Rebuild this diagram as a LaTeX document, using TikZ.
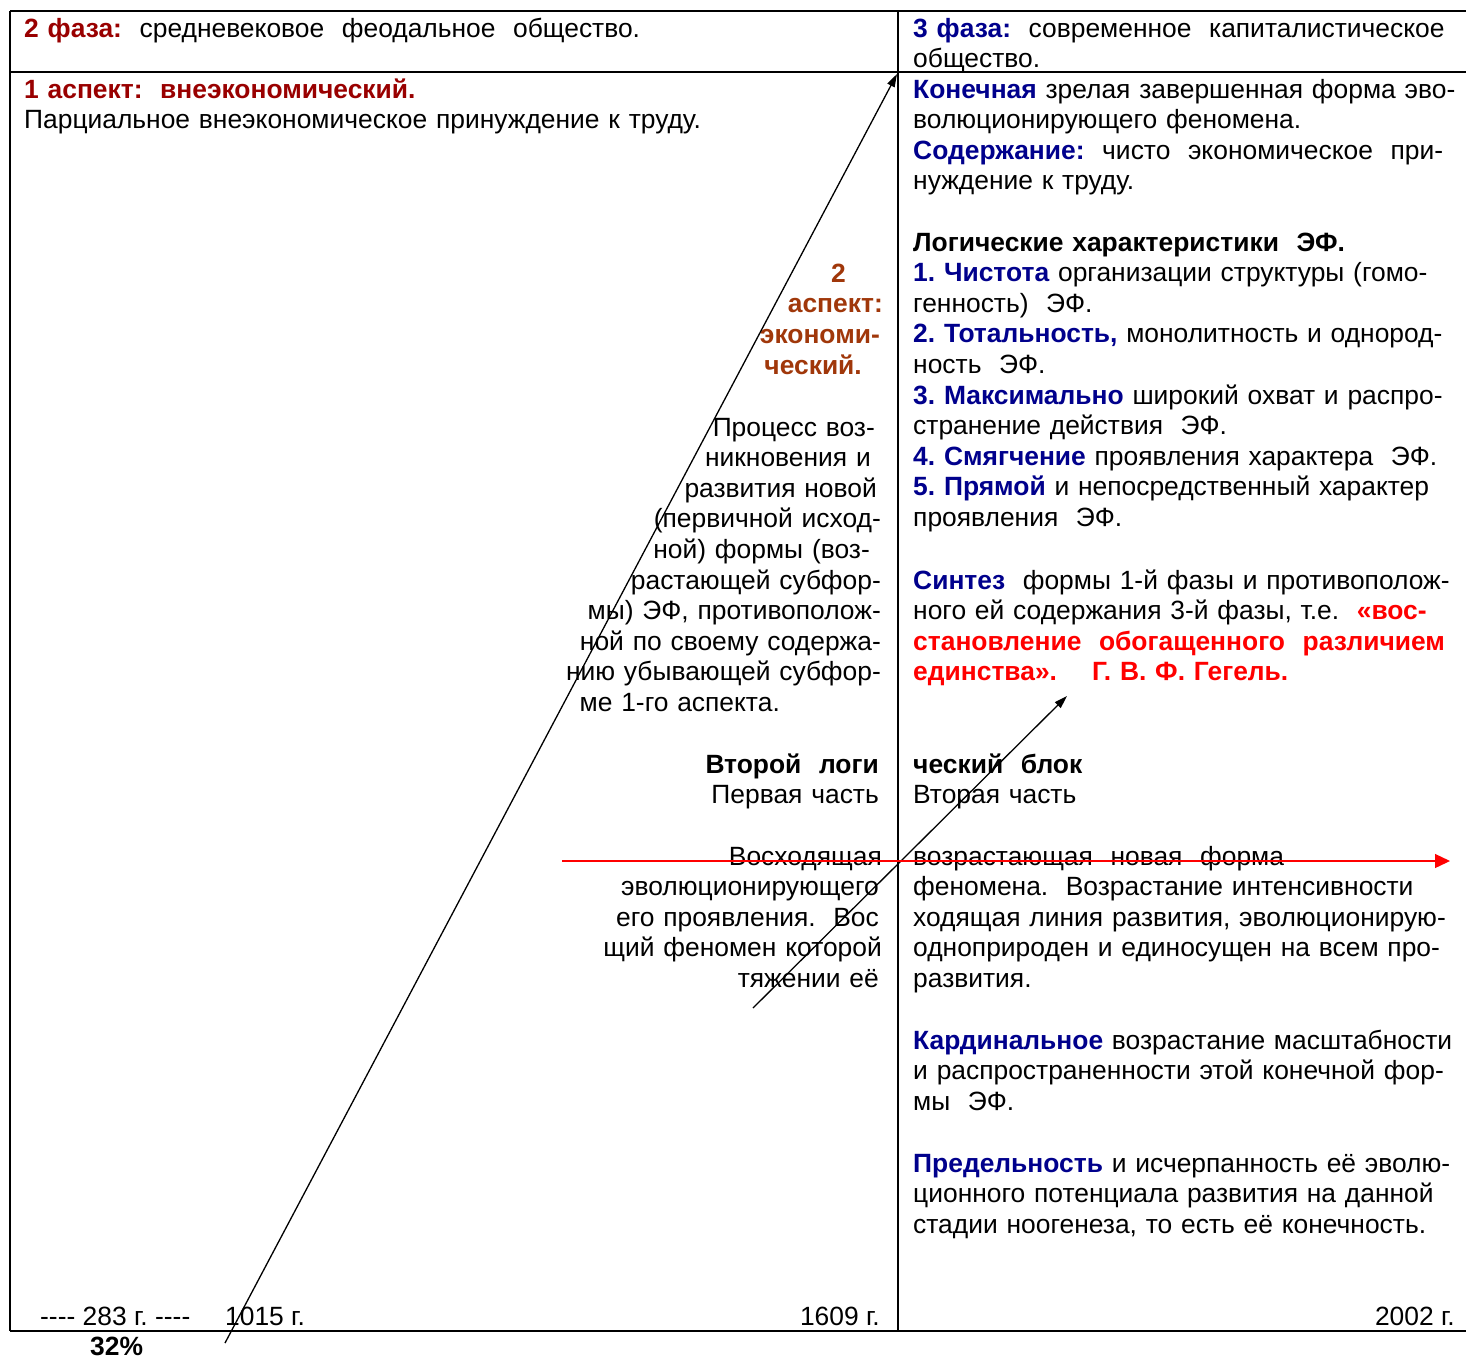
\documentclass[tikz,border=0pt]{standalone}
\usepackage{fontspec}
\setmainfont{Liberation Sans}
\usepackage{xcolor}
\usetikzlibrary{arrows.meta}
\definecolor{dred}{RGB}{153,0,0}
\definecolor{brn}{RGB}{160,55,10}
\definecolor{navy}{RGB}{0,0,140}
\frenchspacing
\newcommand{\fs}{\fontsize{26.4}{30.6}\selectfont}
\newcommand{\nb}[1]{\textcolor{navy}{\textbf{#1}}}
\newcommand{\gap}[1]{\rule{#1}{0pt}}
\tikzset{
  txt/.style={inner sep=0pt, font=\fs, text width=560pt, align=left, anchor=base west},
  rtxt/.style={inner sep=0pt, font=\fs, text width=360pt, align=right, anchor=base east},
  frame/.style={line width=1.6pt},
  arr/.style={line width=1.3pt, -{Triangle[length=13pt,width=8pt]}},
}
\begin{document}
\begin{tikzpicture}[x=1pt,y=-1pt]
\useasboundingbox (0,0) rectangle (1466,1358);
% table
\draw[frame] (10,11) -- (1466,11);
\draw[frame] (10,72) -- (1466,72);
\draw[frame] (10,1331) -- (1466,1331);
\draw[frame] (10,11) -- (10,1331);
\draw[frame] (898,11) -- (898,1331);
%Text left
\node[txt, text width=860pt] (ph2) at (24,37) {\textcolor{dred}{\textbf{2 фаза:}}~ средневековое~ феодальное~ общество.};
\node[txt, text width=860pt] (asp1) at (24,98) {\textcolor{dred}{\textbf{1 аспект:~ внеэкономический.}}\\
  Парциальное внеэкономическое принуждение к труду.};
\foreach \t/\x/\y [count=\i] in {2/846/282, аспект:/883/312, экономи-/880/343, ческий./862/374}
  \node[inner sep=0pt, font=\fs\bfseries, text=brn, anchor=base east] (asp2-\i) at (\x,\y) {\t};
\node[rtxt] (proc) at (881,436) {Процесс воз-\gap{6pt}\\
  никновения и\gap{10pt}\\
  развития новой\gap{4pt}\\
  (первичной исход-\\
  ной) формы (воз-\gap{11pt}\\
  растающей субфор-\\
  мы) ЭФ, противополож-\\
  ной по своему содержа-\\
  нию убывающей субфор-\\
  ме 1-го аспекта.\gap{101pt}};
\node[rtxt] (blk1) at (879,773) {\textbf{Второй~ логи}\\ Первая часть};
\node[rtxt] (up1) at (882,865) {Восходящая\\
  эволюционирующего\gap{3pt}\\
  его проявления.~ Вос\gap{3pt}\\
  щий феномен которой\\
  тяжении её\gap{3pt}};
%Text right
\node[txt] (ph3) at (913,37) {\nb{3 фаза:}~ современное~ капиталистическое\\ общество.};
\node[txt] (fin) at (913,98) {\nb{Конечная} зрелая завершенная форма эво-\\
  волюционирующего феномена.\\
  \nb{Содержание:}~ чисто~ экономическое~ при-\\
  нуждение к труду.};
\node[txt] (logic) at (913,251) {\textbf{Логические характеристики~ ЭФ.}\\
  \nb{1. Чистота} организации структуры (гомо-\\
  генность)~ ЭФ.\\
  \nb{2. Тотальность,} монолитность и однород-\\
  ность~ ЭФ.\\
  \nb{3. Максимально} широкий охват и распро-\\
  странение действия~ ЭФ.\\
  \nb{4. Смягчение} проявления характера~ ЭФ.\\
  \nb{5. Прямой} и непосредственный характер\\
  проявления~ ЭФ.};
\node[txt] (synt) at (913,589) {\nb{Синтез}~ формы 1-й фазы и противополож-\\
  ного ей содержания 3-й фазы, т.е.~ \textcolor{red}{\textbf{«вос-}}\\
  \textcolor{red}{\textbf{становление~ обогащенного~ различием}}\\
  \textcolor{red}{\textbf{единства».~~~ Г. В. Ф. Гегель.}}};
\node[txt] (blk2) at (913,773) {\textbf{ческий~ блок}\\ Вторая часть};
\node[txt] (up2) at (913,865) {возрастающая~ новая~ форма\\
  феномена.~ Возрастание интенсивности\\
  ходящая линия развития, эволюционирую-\\
  одноприроден и единосущен на всем про-\\
  развития.};
\node[txt] (card) at (913,1049) {\nb{Кардинальное} возрастание масштабности\\
  и распространенности этой конечной фор-\\
  мы~ ЭФ.};
\node[txt] (lim) at (913,1172) {\nb{Предельность} и исчерпанность её эволю-\\
  ционного потенциала развития на данной\\
  стадии ноогенеза, то есть её конечность.};
%Dates
\node[inner sep=0pt, font=\fs, anchor=base west] (d283) at (40,1325) {-{}-{}-{}- 283 г. -{}-{}-{}-};
\node[inner sep=0pt, font=\fs, anchor=base west] (d1015) at (225,1325) {1015 г.};
\node[inner sep=0pt, font=\fs, anchor=base east] (d1609) at (880,1325) {1609 г.};
\node[inner sep=0pt, font=\fs, anchor=base east] (d2002) at (1455,1325) {2002 г.};
\node[inner sep=0pt, font=\fs\bfseries, anchor=base west] (pct) at (90,1355) {32\%};
%Arrows
\coordinate (a1s) at (225,1343);
\coordinate (a1e) at (897,74);
\coordinate (a2s) at (753,1008);
\coordinate (a2e) at (1067,696);
\coordinate (rs) at (562,861);
\coordinate (re) at (1450,861);
\draw[arr] (a1s) -- (a1e);
\draw[arr] (a2s) -- (a2e);
\draw[line width=1.3pt, red, -{Triangle[length=15pt,width=14pt]}] (rs) -- (re);
\end{tikzpicture}
\end{document}
